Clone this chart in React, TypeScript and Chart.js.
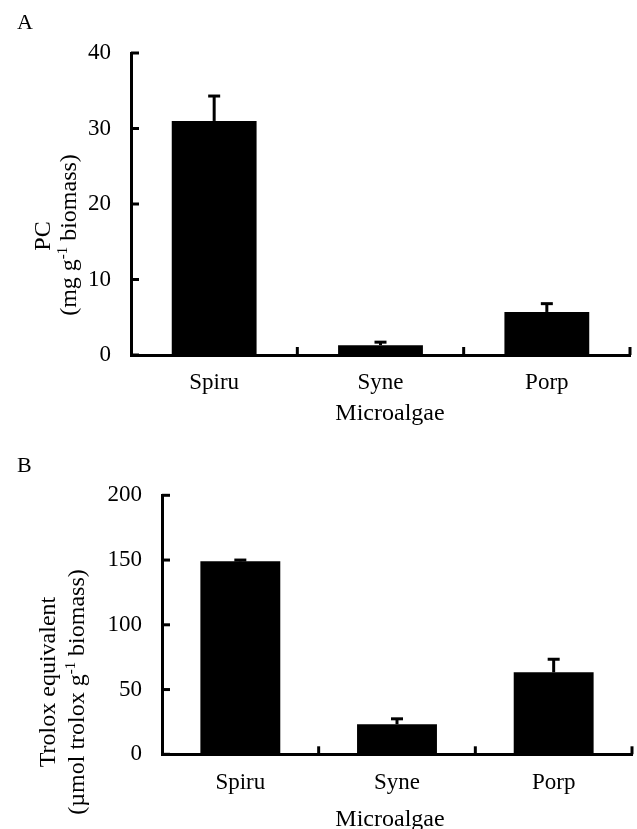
import React, { useEffect, useRef } from "react";
import { Chart, registerables } from "chart.js";

Chart.register(...registerables);

// ---------- data ----------
const categories = ["Spiru", "Syne", "Porp"];

const pcValues = [31.0, 1.3, 5.7];
const pcErrors = [3.3, 0.4, 1.1];
const pcTicks = [0, 10, 20, 30, 40];

const troloxValues = [149.0, 23.2, 63.3];
const troloxErrors = [1.0, 4.2, 10.1];
const troloxTicks = [0, 50, 100, 150, 200];

const xTitle = "Microalgae";
const pcTitleLine1 = [{ t: "PC", sup: false }];
const pcTitleLine2 = [
  { t: "(mg g", sup: false },
  { t: "-1", sup: true },
  { t: " biomass)", sup: false },
];
const trTitleLine1 = [{ t: "Trolox equivalent", sup: false }];
const trTitleLine2 = [
  { t: "(\u00b5mol trolox g", sup: false },
  { t: "-1", sup: true },
  { t: " biomass)", sup: false },
];

// ---------- styling ----------
const FONT = "'Liberation Serif', 'Times New Roman', Times, serif";
const TICK_SIZE = 23;
const TITLE_SIZE = 24;

type Seg = { t: string; sup: boolean };

function drawRich(
  ctx: CanvasRenderingContext2D,
  segs: Seg[],
  cx: number,
  cy: number,
  size: number,
  rotated: boolean
) {
  ctx.save();
  ctx.translate(cx, cy);
  if (rotated) ctx.rotate(-Math.PI / 2);
  ctx.fillStyle = "#000";
  ctx.textBaseline = "alphabetic";
  ctx.textAlign = "left";
  const supSize = size * 0.62;
  let total = 0;
  const ws = segs.map((s) => {
    ctx.font = `${s.sup ? supSize : size}px ${FONT}`;
    const w = ctx.measureText(s.t).width;
    total += w;
    return w;
  });
  let x = -total / 2;
  segs.forEach((s, i) => {
    ctx.font = `${s.sup ? supSize : size}px ${FONT}`;
    ctx.fillText(s.t, x, s.sup ? -size * 0.36 : 0);
    x += ws[i];
  });
  ctx.restore();
}

type PanelCfg = {
  letter: string;
  letterX: number;
  letterY: number;
  values: number[];
  errors: number[];
  ticks: number[];
  height: number;
  top: number;
  padTop: number;
  padRight: number;
  yWidth: number;
  xHeight: number;
  line1: Seg[];
  line2: Seg[];
  l1x: number;
  l1y: number;
  l2x: number;
  l2y: number;
  xtX: number;
  xtY: number;
};

function makePlugin(cfg: PanelCfg) {
  return {
    id: "decor" + cfg.letter,
    afterDatasetsDraw(chart: any) {
      const ctx: CanvasRenderingContext2D = chart.ctx;
      const xs = chart.scales.x;
      const ys = chart.scales.y;
      ctx.save();
      ctx.strokeStyle = "#000";
      ctx.lineWidth = 3;
      ctx.lineCap = "butt";
      cfg.values.forEach((v, i) => {
        const px = xs.getPixelForValue(i);
        const top = ys.getPixelForValue(v);
        const end = ys.getPixelForValue(v + cfg.errors[i]);
        ctx.beginPath();
        ctx.moveTo(px, top);
        ctx.lineTo(px, end);
        ctx.stroke();
        ctx.beginPath();
        ctx.moveTo(px - 6, end);
        ctx.lineTo(px + 6, end);
        ctx.stroke();
      });
      ctx.restore();
    },
    afterDraw(chart: any) {
      const ctx: CanvasRenderingContext2D = chart.ctx;
      const xs = chart.scales.x;
      const ys = chart.scales.y;
      const area = chart.chartArea;
      ctx.save();
      ctx.strokeStyle = "#000";
      ctx.lineWidth = 3;
      // inward y tick marks
      ys.ticks.forEach((_t: any, i: number) => {
        const py = ys.getPixelForTick(i);
        ctx.beginPath();
        ctx.moveTo(area.left, py);
        ctx.lineTo(area.left + 8, py);
        ctx.stroke();
      });
      // inward x boundary tick marks
      for (let i = 1; i <= cfg.values.length; i++) {
        const bx = xs.getPixelForValue(i - 0.5);
        ctx.beginPath();
        ctx.moveTo(bx, area.bottom);
        ctx.lineTo(bx, area.bottom - 8);
        ctx.stroke();
      }
      ctx.restore();

      // panel letter
      ctx.save();
      ctx.fillStyle = "#000";
      ctx.font = `22px ${FONT}`;
      ctx.textBaseline = "alphabetic";
      ctx.textAlign = "left";
      ctx.fillText(cfg.letter, cfg.letterX, cfg.letterY);
      ctx.restore();

      // y-axis title (two lines, rotated)
      drawRich(ctx, cfg.line1, cfg.l1x, cfg.l1y, TITLE_SIZE, true);
      drawRich(ctx, cfg.line2, cfg.l2x, cfg.l2y, TITLE_SIZE, true);
      // x-axis title
      drawRich(ctx, [{ t: xTitle, sup: false }], cfg.xtX, cfg.xtY, TITLE_SIZE, false);
    },
  };
}

function Panel({ cfg }: { cfg: PanelCfg }) {
  const ref = useRef<HTMLCanvasElement>(null);
  useEffect(() => {
    const canvas = ref.current!;
    const tickVals = cfg.ticks;
    const chart = new Chart(canvas, {
      type: "bar",
      data: {
        labels: categories,
        datasets: [
          {
            data: cfg.values,
            backgroundColor: "#000",
            borderWidth: 0,
            barPercentage: 0.51,
            categoryPercentage: 1,
          },
        ],
      },
      options: {
        responsive: false,
        animation: false,
        devicePixelRatio: 1,
        layout: {
          padding: { top: cfg.padTop, right: cfg.padRight, left: 0, bottom: 0 },
        },
        plugins: {
          legend: { display: false },
          tooltip: { enabled: false },
          title: { display: false },
        },
        scales: {
          x: {
            grid: { display: false, drawTicks: false },
            border: { display: true, color: "#000", width: 3 },
            ticks: {
              color: "#000",
              font: { family: FONT, size: TICK_SIZE },
              padding: 14.5,
            },
            afterFit: (s: any) => {
              s.height = cfg.xHeight;
            },
          },
          y: {
            min: tickVals[0],
            max: tickVals[tickVals.length - 1],
            grid: { display: false, drawTicks: false },
            border: { display: true, color: "#000", width: 3 },
            ticks: {
              color: "#000",
              font: { family: FONT, size: TICK_SIZE },
              padding: 20,
            },
            afterBuildTicks: (s: any) => {
              s.ticks = tickVals.map((v) => ({ value: v }));
            },
            afterFit: (s: any) => {
              s.width = cfg.yWidth;
            },
          },
        },
      } as any,
      plugins: [makePlugin(cfg)],
    });
    return () => chart.destroy();
  }, []);
  return (
    <canvas
      ref={ref}
      width={637}
      height={cfg.height}
      style={{
        position: "absolute",
        left: 0,
        top: cfg.top,
        width: 637,
        height: cfg.height,
        display: "block",
      }}
    />
  );
}

const panelA: PanelCfg = {
  letter: "A",
  letterX: 17,
  letterY: 29,
  values: pcValues,
  errors: pcErrors,
  ticks: pcTicks,
  height: 440,
  top: 0,
  padTop: 53,
  padRight: 7,
  yWidth: 131,
  xHeight: 85,
  line1: pcTitleLine1,
  line2: pcTitleLine2,
  l1x: 50,
  l1y: 236,
  l2x: 76,
  l2y: 235,
  xtX: 390,
  xtY: 420,
};

const panelB: PanelCfg = {
  letter: "B",
  letterX: 17,
  letterY: 31.5,
  values: troloxValues,
  errors: troloxErrors,
  ticks: troloxTicks,
  height: 389,
  top: 440,
  padTop: 55.3,
  padRight: 5,
  yWidth: 162,
  xHeight: 74.7,
  line1: trTitleLine1,
  line2: trTitleLine2,
  l1x: 55,
  l1y: 682 - 440,
  l2x: 84,
  l2y: 692 - 440,
  xtX: 390,
  xtY: 826 - 440,
};

export default function App() {
  return (
    <div
      style={{
        position: "absolute",
        left: 0,
        top: 0,
        width: 637,
        height: 829,
        background: "#fff",
        overflow: "hidden",
      }}
    >
      <Panel cfg={panelA} />
      <Panel cfg={panelB} />
    </div>
  );
}
